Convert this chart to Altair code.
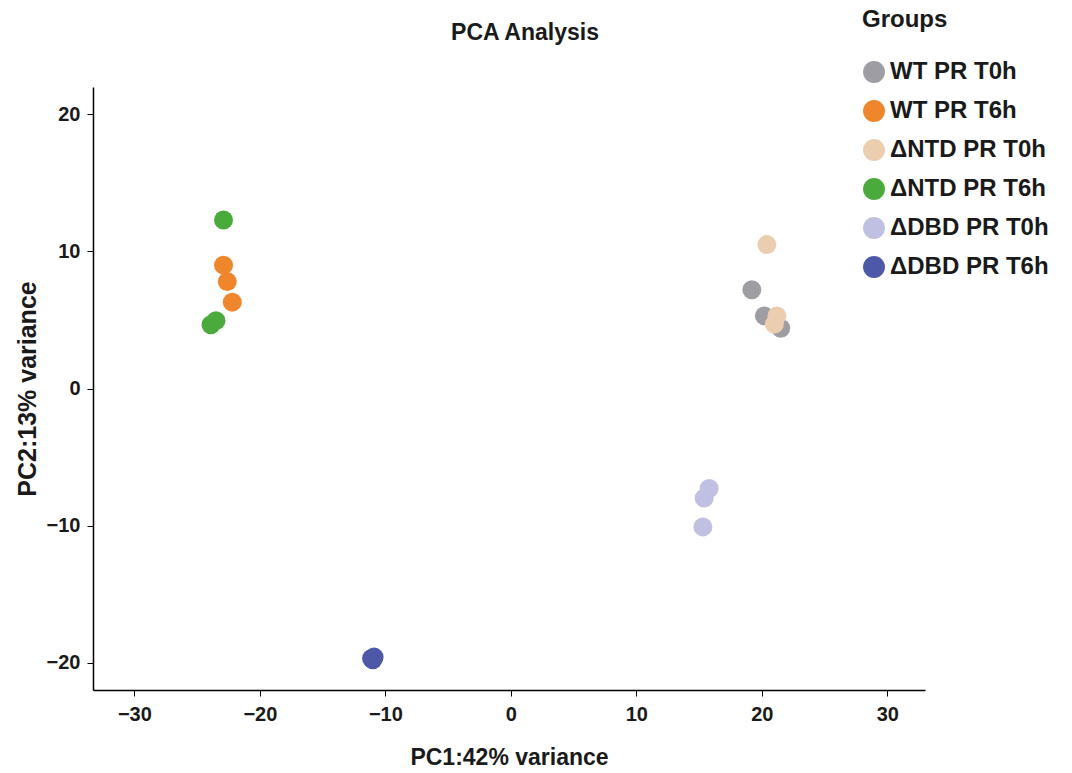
import altair as alt
import pandas as pd

groups = ["WT PR T0h", "WT PR T6h", "ΔNTD PR T0h", "ΔNTD PR T6h", "ΔDBD PR T0h", "ΔDBD PR T6h"]
colors = ["#9d9da3", "#f0862c", "#ebcdb0", "#4aaa3c", "#c0c0e2", "#4e58a8"]

sample_group = ["WT PR T0h", "WT PR T0h", "WT PR T0h",
                "WT PR T6h", "WT PR T6h", "WT PR T6h",
                "ΔNTD PR T0h", "ΔNTD PR T0h", "ΔNTD PR T0h",
                "ΔNTD PR T6h", "ΔNTD PR T6h", "ΔNTD PR T6h",
                "ΔDBD PR T0h", "ΔDBD PR T0h", "ΔDBD PR T0h",
                "ΔDBD PR T6h", "ΔDBD PR T6h", "ΔDBD PR T6h"]
pc1 = [19.2, 20.2, 21.5,
       -22.9, -22.6, -22.2,
       20.4, 21.2, 21.0,
       -22.9, -23.9, -23.5,
       15.8, 15.4, 15.3,
       -11.1, -11.0, -10.9]
pc2 = [7.2, 5.3, 4.4,
       9.0, 7.8, 6.3,
       10.5, 5.3, 4.7,
       12.3, 4.65, 4.95,
       -7.3, -8.0, -10.1,
       -19.7, -19.8, -19.6]
order = [0, 0, 0, 1, 1, 1, 2, 2, 2, 1, 1, 1, 0, 0, 0, 0, 0, 0]

df = pd.DataFrame({"group": sample_group, "PC1": pc1, "PC2": pc2, "ord": order})

FONT = "Liberation Sans"

chart = alt.Chart(df).mark_circle(size=360, opacity=1).encode(
    x=alt.X("PC1:Q", scale=alt.Scale(domain=[-33.3, 33.0], nice=False, zero=False),
            axis=alt.Axis(values=[-30, -20, -10, 0, 10, 20, 30], title="PC1:42% variance",
                          grid=False, domainColor="black", tickColor="black", tickSize=6,
                          labelFont=FONT, labelFontSize=20, labelFontWeight="bold", labelColor="#1a1a1a",
                          labelPadding=8, titleFont=FONT, titleFontSize=23, titleFontWeight="bold",
                          titleColor="#1a1a1a", titlePadding=22, domainWidth=1.5)),
    y=alt.Y("PC2:Q", scale=alt.Scale(domain=[-22, 22], nice=False, zero=False),
            axis=alt.Axis(values=[-20, -10, 0, 10, 20], title="PC2:13% variance",
                          grid=False, domainColor="black", tickColor="black", tickSize=6,
                          labelFont=FONT, labelFontSize=20, labelFontWeight="bold", labelColor="#1a1a1a",
                          labelPadding=7, titleFont=FONT, titleFontSize=25, titleFontWeight="bold",
                          titleColor="#1a1a1a", titlePadding=6, domainWidth=1.5)),
    color=alt.Color("group:N", scale=alt.Scale(domain=groups, range=colors),
                    legend=alt.Legend(title="Groups", orient="none", legendX=769, legendY=-79,
                                      titleFont=FONT, titleFontSize=24, titleFontWeight="bold",
                                      titleColor="#1a1a1a", titlePadding=28,
                                      labelFont=FONT, labelFontSize=24, labelFontWeight="bold",
                                      labelColor="#1a1a1a", symbolType="circle", symbolSize=480,
                                      symbolOpacity=1, symbolStrokeWidth=0, rowPadding=15, labelOffset=4)),
    order=alt.Order("ord:Q"),
).properties(
    width=832, height=603,
    title=alt.TitleParams("PCA Analysis", font=FONT, fontSize=23, fontWeight="bold",
                          color="#1a1a1a", anchor="middle", frame="group", dx=16, offset=-37),
    autosize=alt.AutoSizeParams(type="none"),
    padding={"left": 93, "top": 87, "right": 147, "bottom": 83},
).configure(background="white", view=alt.ViewConfig(stroke="transparent"))

chart.save("out.html", embed_options={"renderer": "svg", "actions": False})
